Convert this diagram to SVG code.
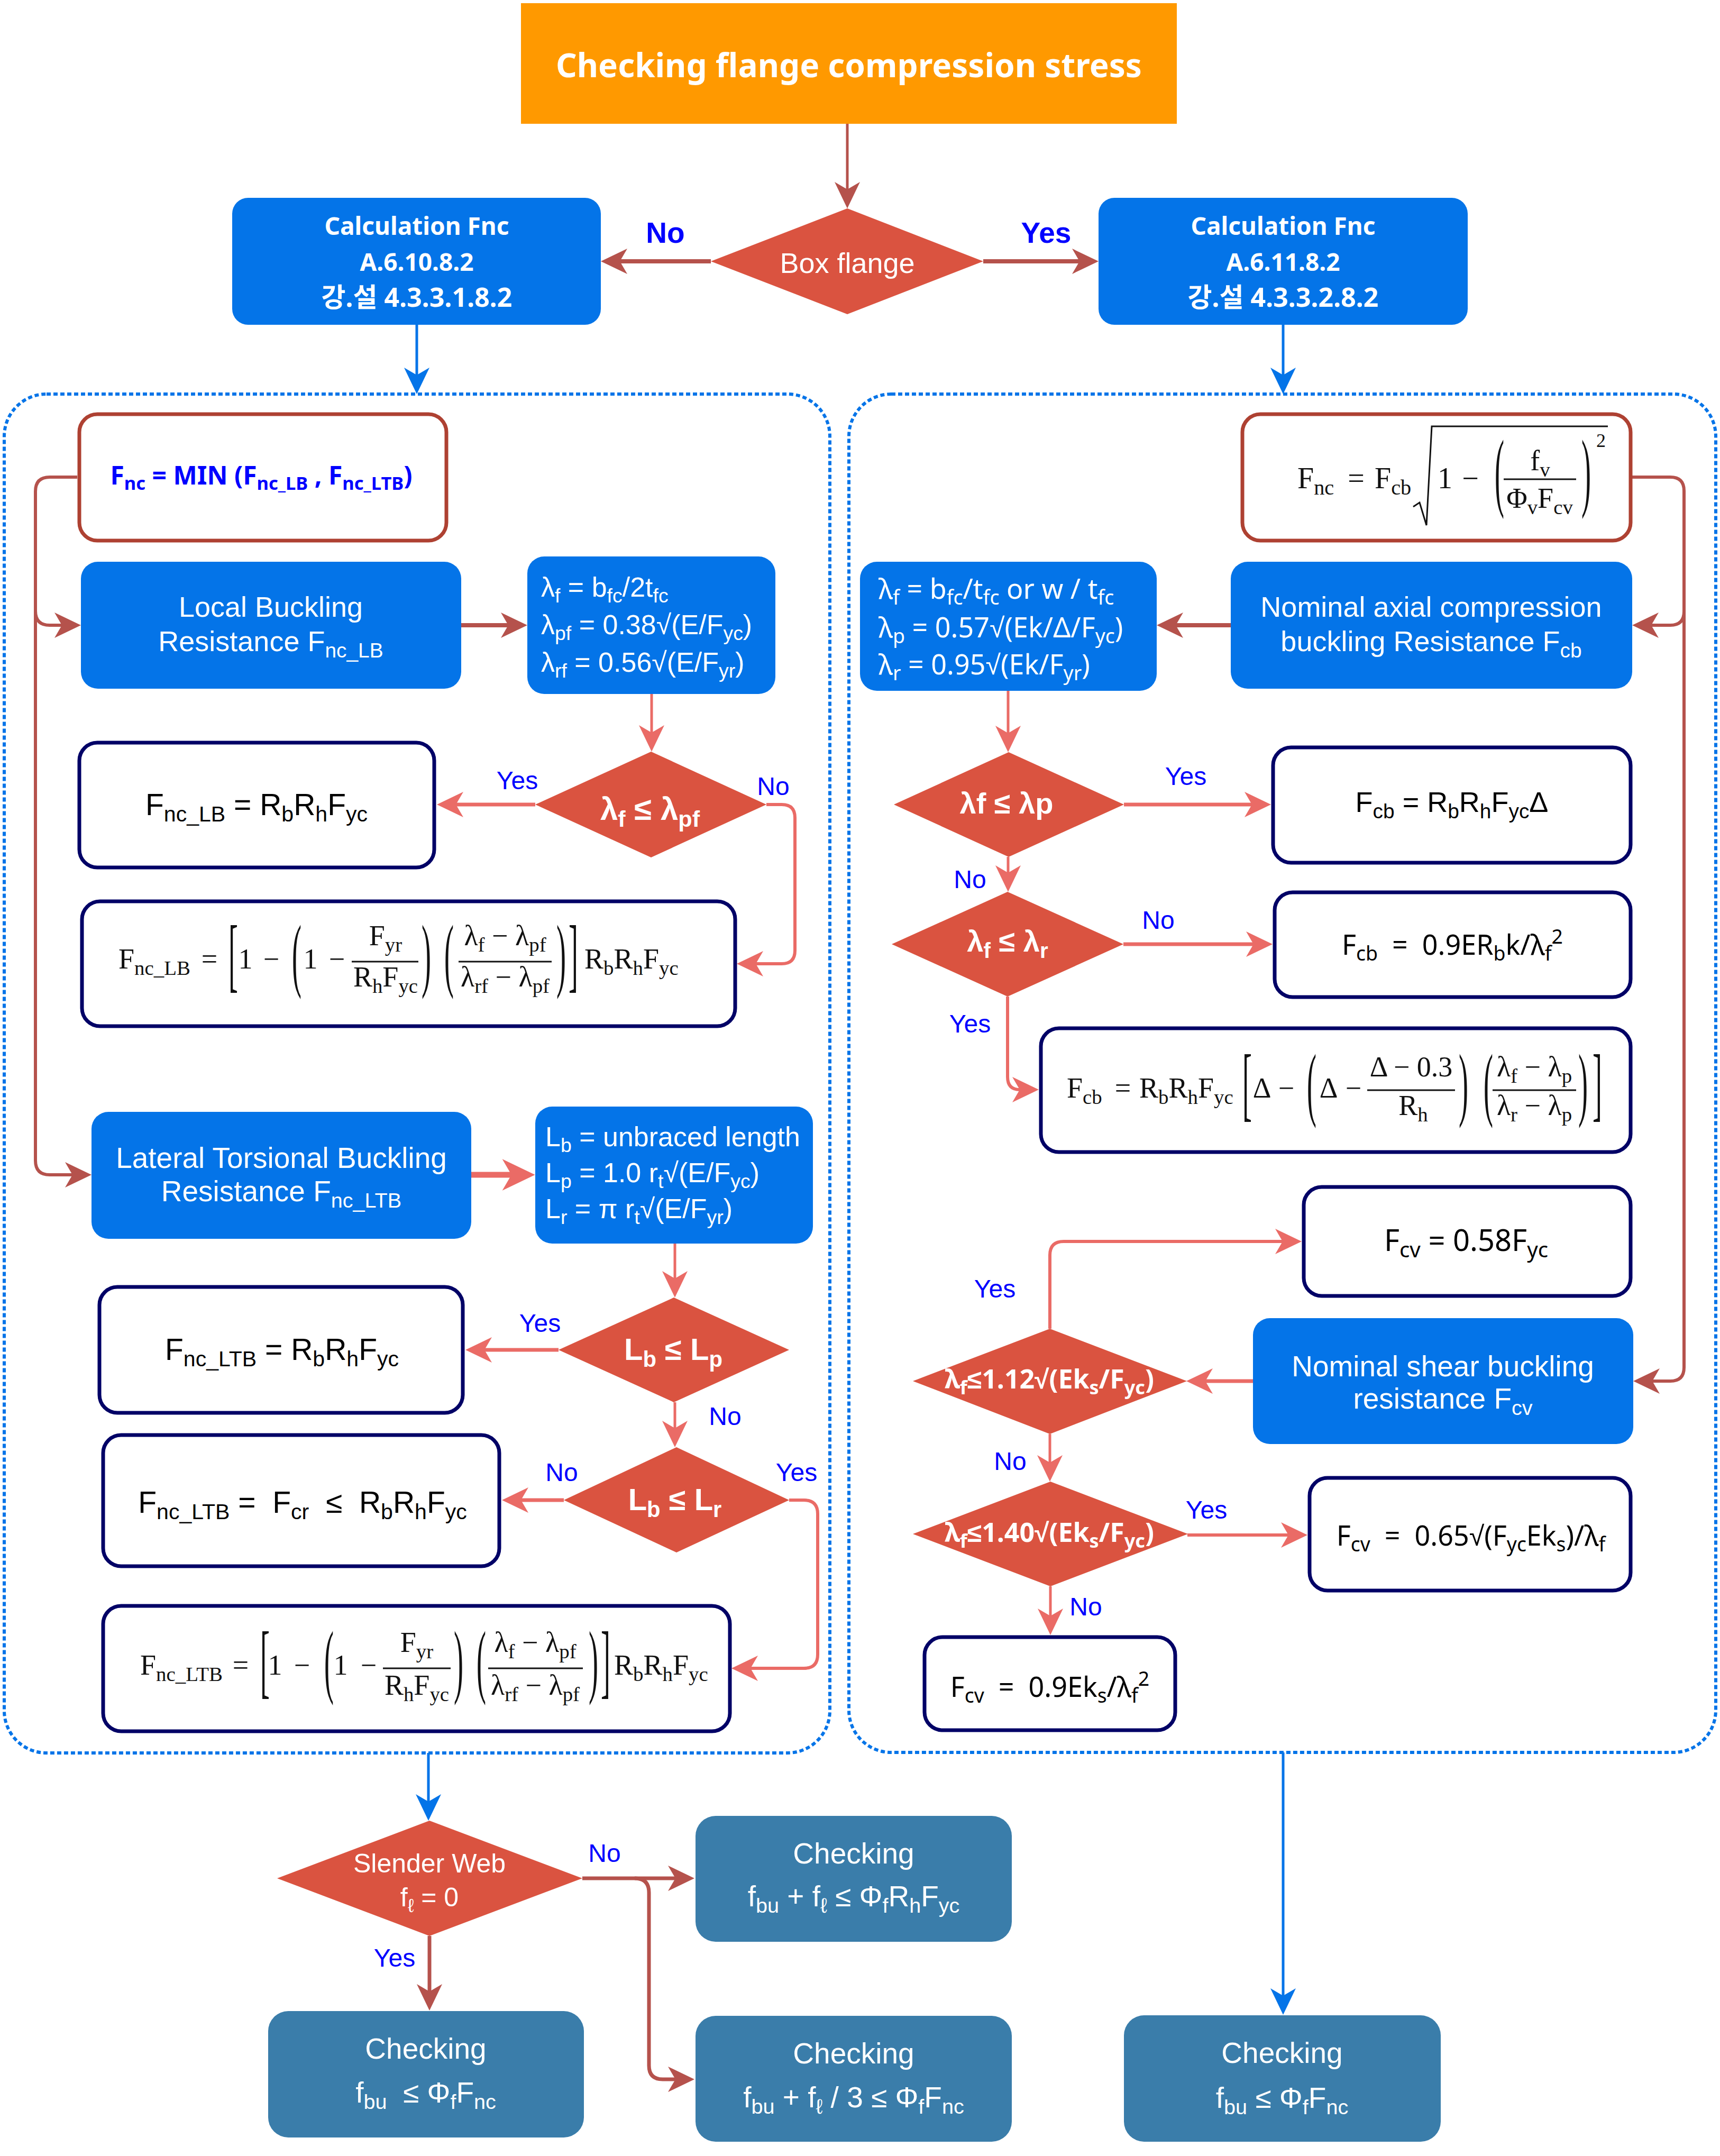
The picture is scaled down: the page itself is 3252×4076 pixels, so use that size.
<svg xmlns="http://www.w3.org/2000/svg" width="3252" height="4076" viewBox="0 0 3252 4076">
<style>
.title{font:bold 62px "Noto Sans",sans-serif;fill:#fff;text-anchor:middle}
.calc{font:bold 46px "Noto Sans","Noto Sans CJK KR",sans-serif;fill:#fff;text-anchor:middle}
.blue{fill:#0474E8}
.dia{fill:#DA5340}
.chk{fill:#3A7DAA}
.frm-r{fill:#fff;stroke:#AE4132;stroke-width:7}
.frm-n{fill:#fff;stroke:#000066;stroke-width:7}
.grp{fill:none;stroke:#0474E8;stroke-width:6;stroke-dasharray:8 5}
.wt{font:54px "Liberation Sans",Arial,sans-serif;fill:#fff;text-anchor:middle}
.wl{font:52px "Liberation Sans",Arial,sans-serif;fill:#fff}
.wn{font:52px "Noto Sans",sans-serif;fill:#fff}
.db{font:bold 58px "Liberation Sans",Arial,sans-serif;fill:#fff;text-anchor:middle}
.dn{font:bold 50px "Noto Sans",sans-serif;fill:#fff;text-anchor:middle}
.eq{font:57px "Liberation Sans",Arial,sans-serif;fill:#000;text-anchor:middle}
.eqn{font:52px "Noto Sans",sans-serif;fill:#000;text-anchor:middle}
.m{font:54px "Liberation Serif","Times New Roman",serif;fill:#111;text-anchor:middle}
.ms{text-anchor:start}
.lbl{font:48px "Liberation Sans",Arial,sans-serif;fill:#00f;text-anchor:middle}
.lblb{font:bold 55px "Liberation Sans",Arial,sans-serif;fill:#00f;text-anchor:middle}
.s{font-size:72%}
.bar{stroke:#111;stroke-width:3}
.cb{fill:none;stroke:#B5524C}
.cs{fill:none;stroke:#EA6B66}
.cu{fill:none;stroke:#0474E8;stroke-width:5}
</style>
<defs>
<marker id="hb" markerUnits="userSpaceOnUse" markerWidth="50" markerHeight="48" viewBox="0 0 50 48" refX="14" refY="24" orient="auto" overflow="visible"><path d="M0,0L50,24L0,48L14,24Z" fill="#B5524C"/></marker>
<marker id="hs" markerUnits="userSpaceOnUse" markerWidth="50" markerHeight="48" viewBox="0 0 50 48" refX="14" refY="24" orient="auto" overflow="visible"><path d="M0,0L50,24L0,48L14,24Z" fill="#EA6B66"/></marker>
<marker id="hsL" markerUnits="userSpaceOnUse" markerWidth="62" markerHeight="60" viewBox="0 0 50 48" refX="14" refY="24" orient="auto" overflow="visible"><path d="M0,0L50,24L0,48L14,24Z" fill="#EA6B66"/></marker>
<marker id="hu" markerUnits="userSpaceOnUse" markerWidth="50" markerHeight="48" viewBox="0 0 50 48" refX="14" refY="24" orient="auto" overflow="visible"><path d="M0,0L50,24L0,48L14,24Z" fill="#0474E8"/></marker>
</defs>
<rect width="3252" height="4076" fill="#fff"/>

<!-- dotted frames around the two calculation branches -->
<g id="frames">
<rect class="grp" x="8" y="745" width="1561" height="2569" rx="80"/>
<rect class="grp" x="1605" y="745" width="1639" height="2568" rx="80"/>
</g>

<!-- connectors -->
<g id="connectors">
<path class="cb" stroke-width="5" d="M1602,234V358" marker-end="url(#hb)"/>
<path class="cb" stroke-width="8" d="M1344,494H1172" marker-end="url(#hb)"/>
<path class="cb" stroke-width="8" d="M1859,494H2041" marker-end="url(#hb)"/>
<path class="cu" d="M788,614V709" marker-end="url(#hu)"/>
<path class="cu" d="M2426,614V709" marker-end="url(#hu)"/>
<!-- left branch -->
<path class="cb" stroke-width="6" d="M146,902H94Q67,902 67,929V1155Q67,1182 94,1182H117" marker-end="url(#hb)"/>
<path class="cb" stroke-width="6" d="M67,1150V2194Q67,2221 94,2221H137" marker-end="url(#hb)"/>
<path class="cb" stroke-width="8" d="M872,1182H961" marker-end="url(#hb)"/>
<path class="cs" stroke-width="5" d="M1232,1312V1385" marker-end="url(#hs)"/>
<path class="cs" stroke-width="7" d="M1012,1521H862" marker-end="url(#hs)"/>
<path class="cs" stroke-width="6" d="M1449,1521H1478Q1503,1521 1503,1546V1797Q1503,1822 1478,1822H1429" marker-end="url(#hs)"/>
<path class="cs" stroke-width="11" d="M891,2221H967" marker-end="url(#hsL)"/>
<path class="cs" stroke-width="5" d="M1276,2351V2417" marker-end="url(#hs)"/>
<path class="cs" stroke-width="7" d="M1056,2552H916" marker-end="url(#hs)"/>
<path class="cs" stroke-width="5" d="M1276,2651V2700" marker-end="url(#hs)"/>
<path class="cs" stroke-width="7" d="M1066,2836H985" marker-end="url(#hs)"/>
<path class="cs" stroke-width="6" d="M1492,2836H1520Q1546,2836 1546,2862V3128Q1546,3154 1520,3154H1419" marker-end="url(#hs)"/>
<!-- right branch -->
<path class="cb" stroke-width="6" d="M3086,902H3158Q3184,902 3184,928V1156Q3184,1182 3158,1182H3122" marker-end="url(#hb)"/>
<path class="cb" stroke-width="6" d="M3184,1150V2585Q3184,2611 3158,2611H3124" marker-end="url(#hb)"/>
<path class="cb" stroke-width="8" d="M2327,1182H2223" marker-end="url(#hb)"/>
<path class="cs" stroke-width="5" d="M1906,1306V1386" marker-end="url(#hs)"/>
<path class="cs" stroke-width="7" d="M2125,1521H2367" marker-end="url(#hs)"/>
<path class="cs" stroke-width="5" d="M1906,1620V1650" marker-end="url(#hs)"/>
<path class="cs" stroke-width="7" d="M2124,1785H2370" marker-end="url(#hs)"/>
<path class="cs" stroke-width="6" d="M1905,1884V2036Q1905,2060 1928,2060" marker-end="url(#hs)"/>
<path class="cs" stroke-width="7" d="M2369,2611H2279" marker-end="url(#hs)"/>
<path class="cs" stroke-width="6" d="M1985,2512V2373Q1985,2347 2011,2347H2425" marker-end="url(#hs)"/>
<path class="cs" stroke-width="5" d="M1985,2711V2765" marker-end="url(#hs)"/>
<path class="cs" stroke-width="6" d="M2245,2902H2436" marker-end="url(#hs)"/>
<path class="cs" stroke-width="5" d="M1986,2999V3055" marker-end="url(#hs)"/>
<!-- final checks -->
<path class="cu" d="M810,3314V3406" marker-end="url(#hu)"/>
<path class="cu" d="M2426,3313V3773" marker-end="url(#hu)"/>
<path class="cb" stroke-width="7" d="M1101,3551H1277" marker-end="url(#hb)"/>
<path class="cb" stroke-width="7" d="M1200,3551Q1227,3551 1227,3578V3905Q1227,3931 1253,3931H1277" marker-end="url(#hb)"/>
<path class="cb" stroke-width="7" d="M812,3660V3765" marker-end="url(#hb)"/>
</g>

<g id="connector-labels">
<text class="lblb" x="1258" y="459">No</text>
<text class="lblb" x="1978" y="459">Yes</text>
<text class="lbl" x="978" y="1492">Yes</text>
<text class="lbl" x="1462" y="1503">No</text>
<text class="lbl" x="1021" y="2518">Yes</text>
<text class="lbl" x="1371" y="2694">No</text>
<text class="lbl" x="1062" y="2800">No</text>
<text class="lbl" x="1506" y="2800">Yes</text>
<text class="lbl" x="2242" y="1484">Yes</text>
<text class="lbl" x="1834" y="1679">No</text>
<text class="lbl" x="2190" y="1756">No</text>
<text class="lbl" x="1834" y="1952">Yes</text>
<text class="lbl" x="1881" y="2453">Yes</text>
<text class="lbl" x="1910" y="2779">No</text>
<text class="lbl" x="2281" y="2871">Yes</text>
<text class="lbl" x="2053" y="3054">No</text>
<text class="lbl" x="1143" y="3520">No</text>
<text class="lbl" x="746" y="3718">Yes</text>
</g>

<!-- top -->
<g id="title"><rect x="985" y="6" width="1240" height="228" fill="#FF9900"/><text class="title" x="1605" y="146">Checking flange compression stress</text></g>
<g id="box-flange"><polygon class="dia" points="1602,394 1859,494 1602,594 1344,494"/><text class="wt" x="1602" y="516">Box flange</text></g>
<g id="calc-a6108"><rect class="blue" x="439" y="374" width="697" height="240" rx="30"/><text class="calc" x="788" y="444">Calculation Fnc</text><text class="calc" x="788" y="512">A.6.10.8.2</text><text class="calc" x="788" y="580" style="font-size:50px">강.설 4.3.3.1.8.2</text></g>
<g id="calc-a6118"><rect class="blue" x="2077" y="374" width="698" height="240" rx="30"/><text class="calc" x="2426" y="444">Calculation Fnc</text><text class="calc" x="2426" y="512">A.6.11.8.2</text><text class="calc" x="2426" y="580" style="font-size:50px">강.설 4.3.3.2.8.2</text></g>

<!-- left branch: I-section flange -->
<g id="fnc-min"><rect class="frm-r" x="150" y="783" width="694" height="239" rx="34"/><text x="494" y="916" style="font:bold 48px 'Noto Sans',sans-serif;fill:#00f;text-anchor:middle">F<tspan class="s" dy=".3em">nc</tspan><tspan dy="-.216em"> = MIN (F</tspan><tspan class="s" dy=".3em">nc_LB</tspan><tspan dy="-.216em"> , F</tspan><tspan class="s" dy=".3em">nc_LTB</tspan><tspan dy="-.216em">)</tspan></text></g>
<g id="local-buckling"><rect class="blue" x="153" y="1062" width="719" height="240" rx="32"/><text class="wt" x="512" y="1166">Local Buckling</text><text class="wt" x="512" y="1231">Resistance F<tspan class="s" dy=".3em">nc_LB</tspan></text></g>
<g id="slenderness-lb"><rect class="blue" x="997" y="1052" width="469" height="260" rx="32"/>
<text class="wl" x="1023" y="1128">λ<tspan class="s" dy=".3em">f</tspan><tspan dy="-.216em"> = b</tspan><tspan class="s" dy=".3em">fc</tspan><tspan dy="-.216em">/2t</tspan><tspan class="s" dy=".3em">fc</tspan></text>
<text class="wl" x="1023" y="1199">λ<tspan class="s" dy=".3em">pf</tspan><tspan dy="-.216em"> = 0.38√(E/F</tspan><tspan class="s" dy=".3em">yc</tspan><tspan dy="-.216em">)</tspan></text>
<text class="wl" x="1023" y="1270">λ<tspan class="s" dy=".3em">rf</tspan><tspan dy="-.216em"> = 0.56√(E/F</tspan><tspan class="s" dy=".3em">yr</tspan><tspan dy="-.216em">)</tspan></text></g>
<g id="dec-lambda-pf"><polygon class="dia" points="1231,1421 1449,1521 1231,1621 1012,1521"/><text class="db" x="1229" y="1550" style="font-size:60px">λ<tspan class="s" dy=".3em">f</tspan><tspan dy="-.216em"> ≤ λ</tspan><tspan class="s" dy=".3em">pf</tspan></text></g>
<g id="fnc-lb-compact"><rect class="frm-n" x="150" y="1404" width="671" height="236" rx="34"/><text class="eq" x="485" y="1541">F<tspan class="s" dy=".3em">nc_LB</tspan><tspan dy="-.216em"> = R</tspan><tspan class="s" dy=".3em">b</tspan><tspan dy="-.216em">R</tspan><tspan class="s" dy=".3em">h</tspan><tspan dy="-.216em">F</tspan><tspan class="s" dy=".3em">yc</tspan></text></g>
<g id="fnc-lb-noncompact"><rect class="frm-n" x="155" y="1704" width="1235" height="236" rx="34"/>
<text class="m ms" x="224" y="1831">F<tspan class="s" dy=".3em">nc_LB</tspan></text>
<text class="m" x="396" y="1831">=</text>
<text class="m" transform="translate(441,1856) scale(1,2.87)">[</text>
<text class="m" x="464" y="1831">1</text>
<text class="m" x="513" y="1831">−</text>
<text class="m" transform="translate(561,1856) scale(1,2.87)">(</text>
<text class="m" x="587" y="1831">1</text>
<text class="m" x="637" y="1831">−</text>
<line class="bar" x1="665" y1="1818" x2="791" y2="1818"/>
<text class="m" x="729" y="1787">F<tspan class="s" dy=".3em">yr</tspan></text>
<text class="m" x="729" y="1865">R<tspan class="s" dy=".3em">h</tspan><tspan dy="-.216em">F</tspan><tspan class="s" dy=".3em">yc</tspan></text>
<text class="m" transform="translate(806,1856) scale(1,2.87)">)</text>
<text class="m" transform="translate(849,1856) scale(1,2.87)">(</text>
<line class="bar" x1="867" y1="1818" x2="1043" y2="1818"/>
<text class="m" x="955" y="1787">λ<tspan class="s" dy=".3em">f</tspan><tspan dy="-.216em"> − λ</tspan><tspan class="s" dy=".3em">pf</tspan></text>
<text class="m" x="955" y="1865">λ<tspan class="s" dy=".3em">rf</tspan><tspan dy="-.216em"> − λ</tspan><tspan class="s" dy=".3em">pf</tspan></text>
<text class="m" transform="translate(1061,1856) scale(1,2.87)">)</text>
<text class="m" transform="translate(1084,1856) scale(1,2.87)">]</text>
<text class="m ms" x="1105" y="1831">R<tspan class="s" dy=".3em">b</tspan><tspan dy="-.216em">R</tspan><tspan class="s" dy=".3em">h</tspan><tspan dy="-.216em">F</tspan><tspan class="s" dy=".3em">yc</tspan></text>
</g>
<g id="lateral-torsional"><rect class="blue" x="173" y="2102" width="718" height="240" rx="32"/><text class="wt" x="532" y="2208" style="font-size:55px">Lateral Torsional Buckling</text><text class="wt" x="532" y="2271" style="font-size:55px">Resistance F<tspan class="s" dy=".3em">nc_LTB</tspan></text></g>
<g id="bracing-lengths"><rect class="blue" x="1012" y="2092" width="525" height="259" rx="32"/>
<text class="wl" x="1031" y="2167">L<tspan class="s" dy=".3em">b</tspan><tspan dy="-.216em"> = unbraced length</tspan></text>
<text class="wl" x="1031" y="2235">L<tspan class="s" dy=".3em">p</tspan><tspan dy="-.216em"> = 1.0 r</tspan><tspan class="s" dy=".3em">t</tspan><tspan dy="-.216em">√(E/F</tspan><tspan class="s" dy=".3em">yc</tspan><tspan dy="-.216em">)</tspan></text>
<text class="wl" x="1031" y="2303">L<tspan class="s" dy=".3em">r</tspan><tspan dy="-.216em"> = π r</tspan><tspan class="s" dy=".3em">t</tspan><tspan dy="-.216em">√(E/F</tspan><tspan class="s" dy=".3em">yr</tspan><tspan dy="-.216em">)</tspan></text></g>
<g id="dec-lb-lp"><polygon class="dia" points="1274,2453 1492,2552 1274,2651 1056,2552"/><text class="db" x="1273" y="2571">L<tspan class="s" dy=".3em">b</tspan><tspan dy="-.216em"> ≤ L</tspan><tspan class="s" dy=".3em">p</tspan></text></g>
<g id="fnc-ltb-compact"><rect class="frm-n" x="188" y="2433" width="687" height="238" rx="34"/><text class="eq" x="533" y="2571">F<tspan class="s" dy=".3em">nc_LTB</tspan><tspan dy="-.216em"> = R</tspan><tspan class="s" dy=".3em">b</tspan><tspan dy="-.216em">R</tspan><tspan class="s" dy=".3em">h</tspan><tspan dy="-.216em">F</tspan><tspan class="s" dy=".3em">yc</tspan></text></g>
<g id="dec-lb-lr"><polygon class="dia" points="1279,2736 1492,2836 1279,2935 1066,2836"/><text class="db" x="1276" y="2855">L<tspan class="s" dy=".3em">b</tspan><tspan dy="-.216em"> ≤ L</tspan><tspan class="s" dy=".3em">r</tspan></text></g>
<g id="fnc-ltb-elastic"><rect class="frm-n" x="195" y="2713" width="749" height="248" rx="34"/><text class="eq" x="572" y="2860">F<tspan class="s" dy=".3em">nc_LTB</tspan><tspan dy="-.216em"> =&#160; F</tspan><tspan class="s" dy=".3em">cr</tspan><tspan dy="-.216em">&#160; ≤&#160; R</tspan><tspan class="s" dy=".3em">b</tspan><tspan dy="-.216em">R</tspan><tspan class="s" dy=".3em">h</tspan><tspan dy="-.216em">F</tspan><tspan class="s" dy=".3em">yc</tspan></text></g>
<g id="fnc-ltb-inelastic"><rect class="frm-n" x="195" y="3036" width="1185" height="237" rx="34"/>
<text class="m ms" x="265" y="3166">F<tspan class="s" dy=".3em">nc_LTB</tspan></text>
<text class="m" x="455" y="3166">=</text>
<text class="m" transform="translate(501,3191) scale(1,2.87)">[</text>
<text class="m" x="520" y="3166">1</text>
<text class="m" x="571" y="3166">−</text>
<text class="m" transform="translate(622,3191) scale(1,2.87)">(</text>
<text class="m" x="644" y="3166">1</text>
<text class="m" x="697" y="3166">−</text>
<line class="bar" x1="724" y1="3154" x2="852" y2="3154"/>
<text class="m" x="788" y="3123">F<tspan class="s" dy=".3em">yr</tspan></text>
<text class="m" x="788" y="3204">R<tspan class="s" dy=".3em">h</tspan><tspan dy="-.216em">F</tspan><tspan class="s" dy=".3em">yc</tspan></text>
<text class="m" transform="translate(867,3191) scale(1,2.87)">)</text>
<text class="m" transform="translate(910,3191) scale(1,2.87)">(</text>
<line class="bar" x1="923" y1="3154" x2="1102" y2="3154"/>
<text class="m" x="1012" y="3123">λ<tspan class="s" dy=".3em">f</tspan><tspan dy="-.216em"> − λ</tspan><tspan class="s" dy=".3em">pf</tspan></text>
<text class="m" x="1012" y="3204">λ<tspan class="s" dy=".3em">rf</tspan><tspan dy="-.216em"> − λ</tspan><tspan class="s" dy=".3em">pf</tspan></text>
<text class="m" transform="translate(1122,3191) scale(1,2.87)">)</text>
<text class="m" transform="translate(1145,3191) scale(1,2.87)">]</text>
<text class="m ms" x="1161" y="3166">R<tspan class="s" dy=".3em">b</tspan><tspan dy="-.216em">R</tspan><tspan class="s" dy=".3em">h</tspan><tspan dy="-.216em">F</tspan><tspan class="s" dy=".3em">yc</tspan></text>
</g>

<!-- right branch: box flange -->
<g id="fnc-box"><rect class="frm-r" x="2349" y="783" width="734" height="239" rx="34"/>
<text class="m ms" x="2453" y="923" style="font-size:56px">F<tspan class="s" dy=".3em">nc</tspan></text>
<text class="m" x="2564" y="923" style="font-size:56px">=</text>
<text class="m ms" x="2599" y="923" style="font-size:56px">F<tspan class="s" dy=".3em">cb</tspan></text>
<path d="M2672,958L2684,950L2697,993L2707,806H3040" fill="none" stroke="#111" stroke-width="3"/>
<text class="m" x="2732" y="923" style="font-size:56px">1</text>
<text class="m" x="2780" y="923" style="font-size:56px">−</text>
<text class="m" transform="translate(2835,946) scale(1,3.08)">(</text>
<line class="bar" x1="2843" y1="906" x2="2980" y2="906"/>
<text class="m" x="2912" y="889">f<tspan class="s" dy=".3em">v</tspan></text>
<text class="m" x="2911" y="960">Φ<tspan class="s" dy=".3em">v</tspan><tspan dy="-.216em">F</tspan><tspan class="s" dy=".3em">cv</tspan></text>
<text class="m" transform="translate(2999,946) scale(1,3.08)">)</text>
<text class="m" x="3027" y="845" style="font-size:36px">2</text>
</g>
<g id="axial-buckling"><rect class="blue" x="2327" y="1062" width="759" height="240" rx="32"/><text class="wt" x="2706" y="1166">Nominal axial compression</text><text class="wt" x="2706" y="1231">buckling Resistance F<tspan class="s" dy=".3em">cb</tspan></text></g>
<g id="slenderness-box"><rect class="blue" x="1626" y="1062" width="561" height="244" rx="32"/>
<text class="wn" x="1661" y="1132">λ<tspan class="s" dy=".3em">f</tspan><tspan dy="-.216em"> = b</tspan><tspan class="s" dy=".3em">fc</tspan><tspan dy="-.216em">/t</tspan><tspan class="s" dy=".3em">fc</tspan><tspan dy="-.216em"> or w / t</tspan><tspan class="s" dy=".3em">fc</tspan></text>
<text class="wn" x="1661" y="1205">λ<tspan class="s" dy=".3em">p</tspan><tspan dy="-.216em"> = 0.57√(Ek/Δ/F</tspan><tspan class="s" dy=".3em">yc</tspan><tspan dy="-.216em">)</tspan></text>
<text class="wn" x="1661" y="1275">λ<tspan class="s" dy=".3em">r</tspan><tspan dy="-.216em"> = 0.95√(Ek/F</tspan><tspan class="s" dy=".3em">yr</tspan><tspan dy="-.216em">)</tspan></text></g>
<g id="dec-lambda-p"><polygon class="dia" points="1907,1422 2125,1521 1907,1620 1690,1521"/><text class="db" x="1903" y="1538" style="font-size:56px">λf ≤ λp</text></g>
<g id="fcb-compact"><rect class="frm-n" x="2407" y="1413" width="676" height="218" rx="34"/><text class="eq" x="2745" y="1535" style="font-size:54px">F<tspan class="s" dy=".3em">cb</tspan><tspan dy="-.216em"> = R</tspan><tspan class="s" dy=".3em">b</tspan><tspan dy="-.216em">R</tspan><tspan class="s" dy=".3em">h</tspan><tspan dy="-.216em">F</tspan><tspan class="s" dy=".3em">yc</tspan><tspan dy="-.216em">Δ</tspan></text></g>
<g id="dec-lambda-r"><polygon class="dia" points="1905,1686 2124,1785 1905,1884 1686,1785"/><text class="db" x="1905" y="1799" style="font-size:56px">λ<tspan class="s" dy=".3em">f</tspan><tspan dy="-.216em"> ≤ λ</tspan><tspan class="s" dy=".3em">r</tspan></text></g>
<g id="fcb-elastic"><rect class="frm-n" x="2410" y="1687" width="673" height="198" rx="34"/><text class="eqn" x="2746" y="1805">F<tspan class="s" dy=".3em">cb</tspan><tspan dy="-.216em">&#160; =&#160; 0.9ER</tspan><tspan class="s" dy=".3em">b</tspan><tspan dy="-.216em">k/λ</tspan><tspan class="s" dy=".3em">f</tspan><tspan class="s" dy="-.85em">2</tspan></text></g>
<g id="fcb-inelastic"><rect class="frm-n" x="1968" y="1944" width="1115" height="234" rx="34"/>
<text class="m ms" x="2017" y="2075">F<tspan class="s" dy=".3em">cb</tspan></text>
<text class="m" x="2123" y="2075">=</text>
<text class="m ms" x="2154" y="2075">R<tspan class="s" dy=".3em">b</tspan><tspan dy="-.216em">R</tspan><tspan class="s" dy=".3em">h</tspan><tspan dy="-.216em">F</tspan><tspan class="s" dy=".3em">yc</tspan></text>
<text class="m" transform="translate(2358,2100) scale(1,2.87)">[</text>
<text class="m" x="2386" y="2075">Δ</text>
<text class="m" x="2432" y="2075">−</text>
<text class="m" transform="translate(2480,2100) scale(1,2.87)">(</text>
<text class="m" x="2512" y="2075">Δ</text>
<text class="m" x="2559" y="2075">−</text>
<line class="bar" x1="2585" y1="2061" x2="2751" y2="2061"/>
<text class="m" x="2668" y="2035">Δ − 0.3</text>
<text class="m" x="2672" y="2108">R<tspan class="s" dy=".3em">h</tspan></text>
<text class="m" transform="translate(2767,2100) scale(1,2.87)">)</text>
<text class="m" transform="translate(2814,2100) scale(1,2.87)">(</text>
<line class="bar" x1="2822" y1="2061" x2="2980" y2="2061"/>
<text class="m" x="2901" y="2035">λ<tspan class="s" dy=".3em">f</tspan><tspan dy="-.216em"> − λ</tspan><tspan class="s" dy=".3em">p</tspan></text>
<text class="m" x="2901" y="2108">λ<tspan class="s" dy=".3em">r</tspan><tspan dy="-.216em"> − λ</tspan><tspan class="s" dy=".3em">p</tspan></text>
<text class="m" transform="translate(2993,2100) scale(1,2.87)">)</text>
<text class="m" transform="translate(3020,2100) scale(1,2.87)">]</text>
</g>
<g id="fcv-yield"><rect class="frm-n" x="2465" y="2244" width="618" height="206" rx="34"/><text class="eqn" x="2772" y="2365" style="font-size:56px">F<tspan class="s" dy=".3em">cv</tspan><tspan dy="-.216em"> = 0.58F</tspan><tspan class="s" dy=".3em">yc</tspan></text></g>
<g id="shear-buckling"><rect class="blue" x="2369" y="2492" width="719" height="238" rx="32"/><text class="wt" x="2728" y="2602" style="font-size:55px">Nominal shear buckling</text><text class="wt" x="2728" y="2663" style="font-size:55px">resistance F<tspan class="s" dy=".3em">cv</tspan></text></g>
<g id="dec-shear-112"><polygon class="dia" points="1985,2512 2244,2611 1985,2711 1726,2611"/><text class="dn" x="1984" y="2625">λ<tspan class="s" dy=".3em">f</tspan><tspan dy="-.216em">≤1.12√(Ek</tspan><tspan class="s" dy=".3em">s</tspan><tspan dy="-.216em">/F</tspan><tspan class="s" dy=".3em">yc</tspan><tspan dy="-.216em">)</tspan></text></g>
<g id="dec-shear-140"><polygon class="dia" points="1986,2801 2246,2900 1986,2999 1726,2900"/><text class="dn" x="1984" y="2915">λ<tspan class="s" dy=".3em">f</tspan><tspan dy="-.216em">≤1.40√(Ek</tspan><tspan class="s" dy=".3em">s</tspan><tspan dy="-.216em">/F</tspan><tspan class="s" dy=".3em">yc</tspan><tspan dy="-.216em">)</tspan></text></g>
<g id="fcv-inelastic"><rect class="frm-n" x="2476" y="2794" width="607" height="213" rx="34"/><text class="eqn" x="2781" y="2922">F<tspan class="s" dy=".3em">cv</tspan><tspan dy="-.216em">&#160; =&#160; 0.65√(F</tspan><tspan class="s" dy=".3em">yc</tspan><tspan dy="-.216em">Ek</tspan><tspan class="s" dy=".3em">s</tspan><tspan dy="-.216em">)/λ</tspan><tspan class="s" dy=".3em">f</tspan></text></g>
<g id="fcv-elastic"><rect class="frm-n" x="1748" y="3095" width="474" height="176" rx="34"/><text class="eqn" x="1985" y="3208">F<tspan class="s" dy=".3em">cv</tspan><tspan dy="-.216em">&#160; =&#160; 0.9Ek</tspan><tspan class="s" dy=".3em">s</tspan><tspan dy="-.216em">/λ</tspan><tspan class="s" dy=".3em">f</tspan><tspan class="s" dy="-.85em">2</tspan></text></g>

<!-- stress checks -->
<g id="dec-slender-web"><polygon class="dia" points="812,3442 1101,3551 812,3660 524,3551"/><text class="wt" x="812" y="3540" style="font-size:50px">Slender Web</text><text class="wt" x="812" y="3604" style="font-size:50px">f<tspan class="s" dy=".3em">ℓ</tspan><tspan dy="-.216em"> = 0</tspan></text></g>
<g id="check-yield"><rect class="chk" x="1315" y="3433" width="598" height="238" rx="38"/><text class="wt" x="1614" y="3523" style="font-size:55px">Checking</text><text class="wt" x="1614" y="3604" style="font-size:55px">f<tspan class="s" dy=".3em">bu</tspan><tspan dy="-.216em"> + f</tspan><tspan class="s" dy=".3em">ℓ</tspan><tspan dy="-.216em"> ≤ Φ</tspan><tspan class="s" dy=".3em">f</tspan><tspan dy="-.216em">R</tspan><tspan class="s" dy=".3em">h</tspan><tspan dy="-.216em">F</tspan><tspan class="s" dy=".3em">yc</tspan></text></g>
<g id="check-web"><rect class="chk" x="507" y="3802" width="597" height="239" rx="38"/><text class="wt" x="805" y="3892" style="font-size:55px">Checking</text><text class="wt" x="805" y="3975" style="font-size:55px">f<tspan class="s" dy=".3em">bu</tspan><tspan dy="-.216em">&#160; ≤ Φ</tspan><tspan class="s" dy=".3em">f</tspan><tspan dy="-.216em">F</tspan><tspan class="s" dy=".3em">nc</tspan></text></g>
<g id="check-lateral"><rect class="chk" x="1315" y="3811" width="598" height="238" rx="38"/><text class="wt" x="1614" y="3901" style="font-size:55px">Checking</text><text class="wt" x="1614" y="3984" style="font-size:55px">f<tspan class="s" dy=".3em">bu</tspan><tspan dy="-.216em"> + f</tspan><tspan class="s" dy=".3em">ℓ</tspan><tspan dy="-.216em"> / 3 ≤ Φ</tspan><tspan class="s" dy=".3em">f</tspan><tspan dy="-.216em">F</tspan><tspan class="s" dy=".3em">nc</tspan></text></g>
<g id="check-box"><rect class="chk" x="2125" y="3810" width="599" height="239" rx="38"/><text class="wt" x="2424" y="3900" style="font-size:55px">Checking</text><text class="wt" x="2424" y="3985" style="font-size:55px">f<tspan class="s" dy=".3em">bu</tspan><tspan dy="-.216em"> ≤ Φ</tspan><tspan class="s" dy=".3em">f</tspan><tspan dy="-.216em">F</tspan><tspan class="s" dy=".3em">nc</tspan></text></g>
</svg>
